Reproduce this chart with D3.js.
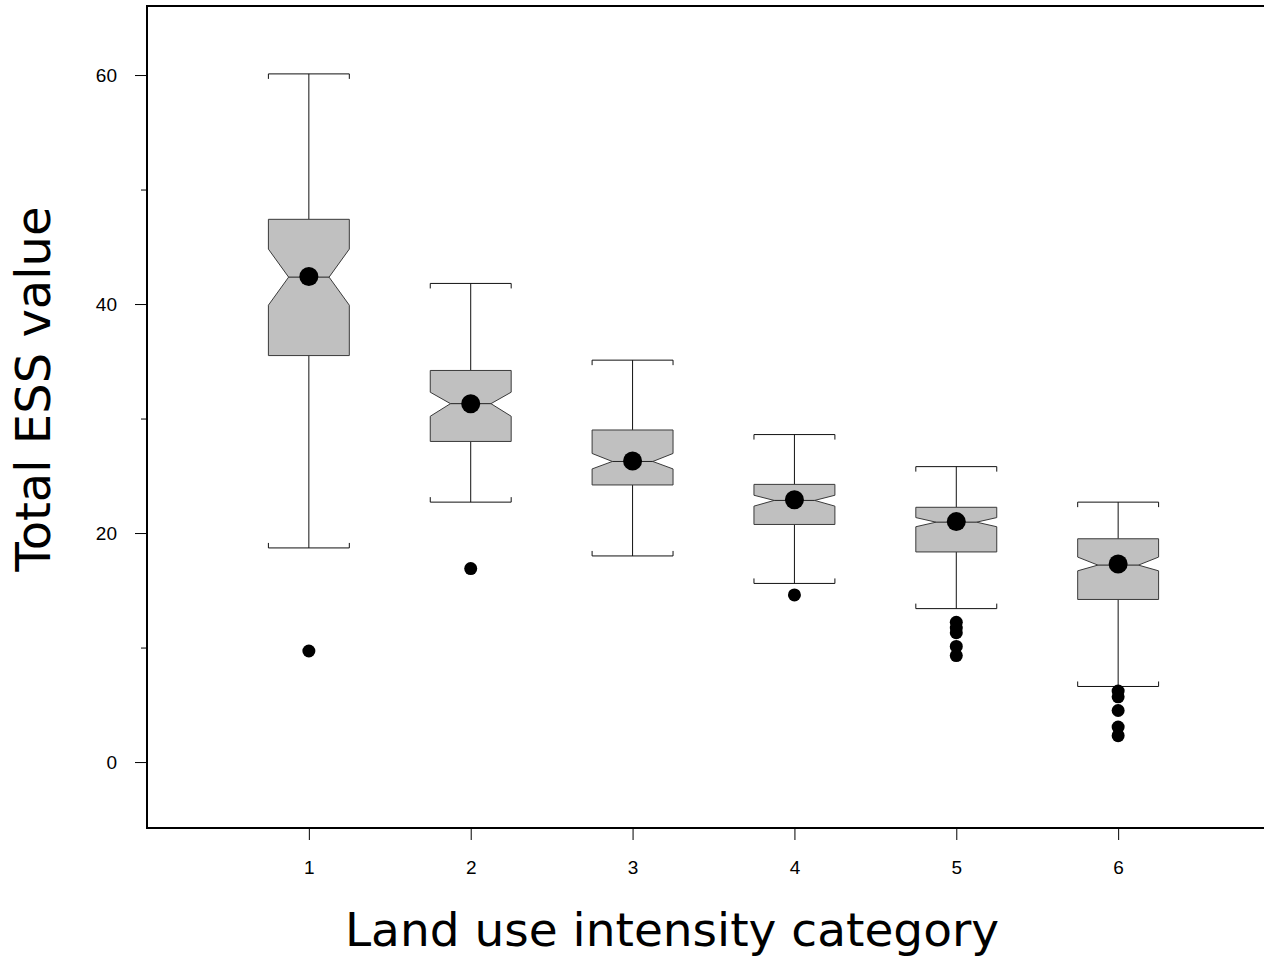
<!DOCTYPE html>
<html>
<head>
<meta charset="utf-8">
<script src="https://cdn.jsdelivr.net/npm/d3@7"></script>
<style>
  body { margin: 0; background: #fff; }
  svg { display: block; }
</style>
</head>
<body>
<div id="chart"></div>
<script>
// values
const categories = ['1', '2', '3', '4', '5', '6'];
const whiskerHigh = [60.1, 41.8, 35.1, 28.6, 25.8, 22.7];
const q3 = [47.4, 34.2, 29.0, 24.25, 22.25, 19.5];
const notchHigh = [44.8, 32.3, 26.95, 23.3, 21.35, 17.9];
const median = [42.35, 31.3, 26.25, 22.85, 20.95, 17.2];
const notchLow = [39.9, 30.2, 25.6, 22.35, 20.55, 16.7];
const q1 = [35.5, 28.0, 24.2, 20.75, 18.35, 14.2];
const whiskerLow = [18.7, 22.7, 18.0, 15.6, 13.4, 6.6];
const means = [42.4, 31.3, 26.3, 22.9, 21.0, 17.3];
const outliers = [[9.7], [16.9], [], [14.6], [12.2, 11.7, 11.3, 10.1, 9.3], [6.2, 5.7, 4.5, 3.05, 2.3]];
const yMajorTicks = [0, 20, 40, 60];
const yMinorTicks = [10, 30, 50];

const width = 1264;
const height = 957;
const margin = { top: 6, right: -16, bottom: 129, left: 147 };

const svg = d3.select('#chart').append('svg')
    .attr('width', width)
    .attr('height', height);

const x = d3.scaleLinear()
    .domain([0, 7])
    .range([margin.left, width - margin.right]);

const y = d3.scaleLinear()
    .domain([-5.76, 66.03])
    .range([height - margin.bottom, margin.top]);

const halfBox = 0.25;   // box half-width in category units
const halfNotch = 0.125;

const boxes = categories.map((c, i) => ({
    cat: c, pos: i + 1,
    hi: whiskerHigh[i], q3: q3[i], nh: notchHigh[i], med: median[i],
    nl: notchLow[i], q1: q1[i], lo: whiskerLow[i], mean: means[i], out: outliers[i]
}));

const g = svg.append('g');

// whiskers
g.selectAll('.whisker')
    .data(boxes)
    .enter().append('path')
    .attr('fill', 'none')
    .attr('stroke', '#111')
    .attr('stroke-width', 1)
    .attr('d', d => {
        const xl = x(d.pos - halfBox), xr = x(d.pos + halfBox), xc = x(d.pos);
        return 'M' + xc + ',' + y(d.hi) + 'V' + y(d.q3) +
            'M' + xc + ',' + y(d.q1) + 'V' + y(d.lo) +
            // upper cap with ends pointing down
            'M' + xl + ',' + (y(d.hi) + 5) + 'V' + y(d.hi) + 'H' + xr + 'V' + (y(d.hi) + 5) +
            // lower cap with ends pointing up
            'M' + xl + ',' + (y(d.lo) - 5) + 'V' + y(d.lo) + 'H' + xr + 'V' + (y(d.lo) - 5);
    });

// notched boxes
g.selectAll('.box')
    .data(boxes)
    .enter().append('path')
    .attr('fill', '#c0c0c0')
    .attr('stroke', '#3a3a3a')
    .attr('stroke-width', 1)
    .attr('d', d => {
        const xl = x(d.pos - halfBox), xr = x(d.pos + halfBox);
        const nl = x(d.pos - halfNotch), nr = x(d.pos + halfNotch);
        return 'M' + xl + ',' + y(d.q3) + 'H' + xr + 'V' + y(d.nh) +
            'L' + nr + ',' + y(d.med) + 'L' + xr + ',' + y(d.nl) +
            'V' + y(d.q1) + 'H' + xl + 'V' + y(d.nl) +
            'L' + nl + ',' + y(d.med) + 'L' + xl + ',' + y(d.nh) + 'Z';
    });

// median lines
g.selectAll('.median')
    .data(boxes)
    .enter().append('line')
    .attr('x1', d => x(d.pos - halfNotch))
    .attr('x2', d => x(d.pos + halfNotch))
    .attr('y1', d => y(d.med))
    .attr('y2', d => y(d.med))
    .attr('stroke', '#222')
    .attr('stroke-width', 1);

// outliers
g.selectAll('.outlier')
    .data(boxes.flatMap(d => d.out.map(v => ({ pos: d.pos, v: v }))))
    .enter().append('circle')
    .attr('cx', d => x(d.pos))
    .attr('cy', d => y(d.v))
    .attr('r', 6.5)
    .attr('fill', '#000');

// means
g.selectAll('.mean')
    .data(boxes)
    .enter().append('circle')
    .attr('cx', d => x(d.pos))
    .attr('cy', d => y(d.mean))
    .attr('r', 9.5)
    .attr('fill', '#000');

// frame
svg.append('rect')
    .attr('x', margin.left)
    .attr('y', margin.top)
    .attr('width', x.range()[1] - margin.left)
    .attr('height', y.range()[0] - margin.top)
    .attr('fill', 'none')
    .attr('stroke', '#000')
    .attr('stroke-width', 2);

// y axis
const yAxis = svg.append('g')
    .attr('transform', 'translate(' + margin.left + ',0)')
    .call(d3.axisLeft(y).tickValues(yMajorTicks).tickSize(12).tickPadding(18).tickFormat(d3.format('d')));
yAxis.select('.domain').remove();
yAxis.selectAll('text')
    .style('font-family', 'Liberation Sans, Arial, sans-serif')
    .style('font-size', '19px')
    .attr('fill', '#000');

const yMinor = svg.append('g')
    .attr('transform', 'translate(' + margin.left + ',0)')
    .call(d3.axisLeft(y).tickValues(yMinorTicks).tickSize(6).tickFormat(''));
yMinor.select('.domain').remove();

// x axis
const xAxis = svg.append('g')
    .attr('transform', 'translate(0,' + y.range()[0] + ')')
    .call(d3.axisBottom(x).tickValues(boxes.map(d => d.pos)).tickSize(12).tickPadding(21)
        .tickFormat((d, i) => categories[i]));
xAxis.select('.domain').remove();
xAxis.selectAll('text')
    .style('font-family', 'Liberation Sans, Arial, sans-serif')
    .style('font-size', '19px')
    .attr('fill', '#000');

// axis titles
svg.append('text')
    .attr('x', 672)
    .attr('y', 946)
    .attr('text-anchor', 'middle')
    .style('font-family', 'DejaVu Sans, Verdana, sans-serif')
    .style('font-size', '47px')
    .text('Land use intensity category');

svg.append('text')
    .attr('transform', 'translate(50,389) rotate(-90)')
    .attr('text-anchor', 'middle')
    .style('font-family', 'DejaVu Sans, Verdana, sans-serif')
    .style('font-size', '48px')
    .text('Total ESS value');
</script>
</body>
</html>
